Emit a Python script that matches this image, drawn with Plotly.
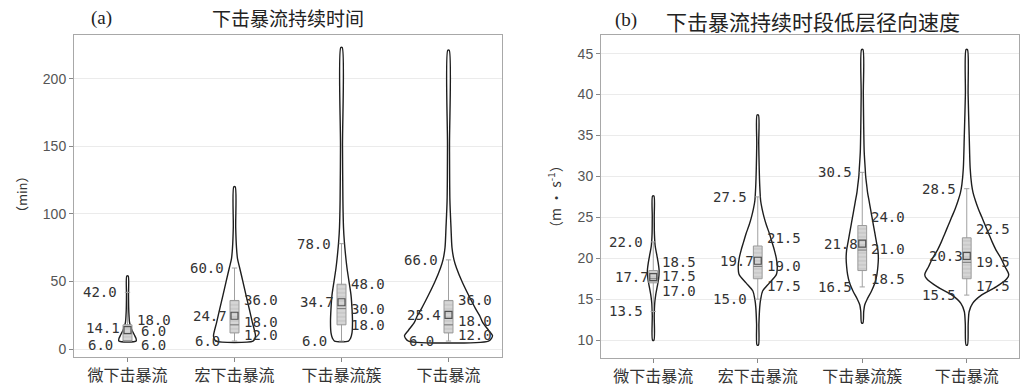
import plotly.graph_objects as go

W, H = 1020, 387

categories = ["微下击暴流", "宏下击暴流", "下击暴流簇", "下击暴流"]

# ---- (a) downburst duration, min ----
dur_upper = [42.0, 60.0, 78.0, 66.0]
dur_mean = [14.1, 24.7, 34.7, 25.4]
dur_lower = [6.0, 6.0, 6.0, 6.0]
dur_q3 = [18.0, 36.0, 48.0, 36.0]
dur_median = [6.0, 18.0, 30.0, 18.0]
dur_q1 = [6.0, 12.0, 18.0, 12.0]

# density profiles: value grid and relative half-width of each violin
dur_grid = [
    [6, 8, 10, 12, 14, 17, 20, 25, 30, 40, 54],
    [6, 8, 10, 20, 30, 40, 50, 60, 67, 75, 90, 120],
    [6, 8, 12, 20, 30, 40, 50, 60, 70, 80, 90, 110, 150, 223],
    [6, 8, 10, 14, 20, 25, 30, 40, 50, 60, 66, 75, 90, 110, 150, 221],
]
dur_density = [
    [8.7, 8.5, 7.2, 5.8, 4.5, 3.0, 2.0, 1.5, 1.2, 1.0, 0.7],
    [18.5, 20.5, 21.0, 17.8, 14.7, 11.5, 8.4, 5.2, 3.0, 2.0, 1.2, 0.7],
    [7.0, 9.0, 10.5, 11.0, 10.5, 9.5, 7.5, 5.5, 4.0, 2.8, 2.0, 1.4, 1.0, 0.7],
    [40, 43, 44, 40, 34, 31, 27, 20, 13.5, 8, 5.5, 3.5, 2.5, 1.4, 1.0, 0.7],
]

# ---- (b) low-level radial velocity, m/s ----
spd_upper = [22.0, 27.5, 30.5, 28.5]
spd_mean = [17.7, 19.7, 21.8, 20.3]
spd_lower = [13.5, 15.0, 16.5, 15.5]
spd_q3 = [18.5, 21.5, 24.0, 22.5]
spd_median = [17.5, 19.0, 21.0, 19.5]
spd_q1 = [17.0, 17.5, 18.5, 17.5]

spd_grid = [
    [10, 13, 14.5, 15.5, 16.5, 17.5, 18.5, 19.5, 20.5, 21.5, 23, 25, 27.6],
    [9.4, 12, 14, 15, 16, 17, 18, 19, 20, 21, 22, 23, 24, 25, 26, 27, 29, 31, 34, 37.5],
    [12.1, 13.5, 14.3, 15, 16, 17, 18, 19, 20, 21, 22, 23, 24, 25, 26, 27, 28, 29, 30, 31, 33, 36, 40, 45.5],
    [9.4, 12, 13.5, 14.5, 15.5, 16.5, 17.5, 18, 19, 20, 21, 22, 23, 24, 25, 26, 27, 28, 29, 31, 35, 40, 45.5],
]
spd_density = [
    [0.7, 1.0, 1.5, 2.5, 4.0, 5.5, 6.0, 5.0, 3.5, 2.0, 1.2, 1.0, 0.7],
    [0.7, 1.2, 2.0, 3.0, 5.0, 12, 19, 20, 19, 17, 14.5, 12, 9, 6.5, 4.5, 3.0, 2.0, 1.5, 1.0, 0.7],
    [0.7, 1.5, 2.5, 5.0, 9.5, 13, 15, 16, 16.5, 16, 14.5, 13, 11.5, 10, 8.5, 7, 5.5, 4.5, 3.5, 3.0, 2.0, 1.5, 1.1, 0.7],
    [0.7, 1.5, 2.5, 6.0, 15, 30, 41, 43, 39, 35, 30, 26, 22.5, 19, 15.5, 12, 9, 6.5, 5.0, 3.5, 2.5, 1.4, 0.7],
]

DENSITY_SCALE = 1 / 107.0   # density units -> category units
BOX_HALF = 0.042
CAP_HALF = 0.025
CJK = "Noto Sans CJK SC"
MONO = "DejaVu Sans Mono"


def px_x(p):
    return p / W


def px_y(p):
    return 1 - p / H


fig = go.Figure()


def add_panel(xa, ya, grids, dens, lower, q1, med, q3, upper, mean):
    n = len(categories)
    # violin outlines, white filled
    for i, (g, d) in enumerate(zip(grids, dens)):
        hw = [v * DENSITY_SCALE for v in d]
        xs = [i - w for w in hw] + [i + w for w in reversed(hw)] + [i - hw[0]]
        ys = list(g) + list(reversed(g)) + [g[0]]
        fig.add_trace(go.Scatter(
            x=xs, y=ys, mode="lines", fill="toself", fillcolor="white",
            line=dict(color="#1e1e1e", width=1.4, shape="spline", smoothing=0.8),
            xaxis=xa, yaxis=ya, hoverinfo="skip", showlegend=False))

    # whiskers with short caps
    wx, wy = [], []
    for i in range(n):
        wx += [i, i, None, i - CAP_HALF, i + CAP_HALF, None, i - CAP_HALF, i + CAP_HALF, None]
        wy += [lower[i], upper[i], None, lower[i], lower[i], None, upper[i], upper[i], None]
    fig.add_trace(go.Scatter(x=wx, y=wy, mode="lines", line=dict(color="#a0a0a0", width=1),
                             xaxis=xa, yaxis=ya, hoverinfo="skip", showlegend=False))

    # interquartile boxes, hatched
    for i in range(n):
        fig.add_trace(go.Scatter(
            x=[i - BOX_HALF, i + BOX_HALF, i + BOX_HALF, i - BOX_HALF, i - BOX_HALF],
            y=[q1[i], q1[i], q3[i], q3[i], q1[i]],
            mode="lines", fill="toself", fillcolor="#d4d4d4",
            fillpattern=dict(shape="-", bgcolor="#d6d6d6", fgcolor="#a6a6a6", size=4, solidity=0.25),
            line=dict(color="#9a9a9a", width=1),
            xaxis=xa, yaxis=ya, hoverinfo="skip", showlegend=False))

    # median lines
    mx, my = [], []
    for i in range(n):
        mx += [i - BOX_HALF, i + BOX_HALF, None]
        my += [med[i], med[i], None]
    fig.add_trace(go.Scatter(x=mx, y=my, mode="lines", line=dict(color="#7a7a7a", width=1),
                             xaxis=xa, yaxis=ya, hoverinfo="skip", showlegend=False))

    # mean markers
    fig.add_trace(go.Scatter(
        x=list(range(n)), y=mean, mode="markers",
        marker=dict(symbol="square-open", size=7, color="#505050", line=dict(width=1.2)),
        xaxis=xa, yaxis=ya, showlegend=False))


add_panel("x", "y", dur_grid, dur_density, dur_lower, dur_q1, dur_median, dur_q3, dur_upper, dur_mean)
add_panel("x2", "y2", spd_grid, spd_density, spd_lower, spd_q1, spd_median, spd_q3, spd_upper, spd_mean)

annotations = []

# value labels: left side = upper whisker / mean / lower whisker, right side = Q3 / median / Q1
label_font = dict(family=MONO, size=14, color="#333333")
shifts = {
    "x": dict(mean_dx=-25,
              left_dy=[(0, 2, -4), (0, 0, 0), (0, 0, 0), (0, 0, 0)],
              right_dy=[(5, 10, -4), (0, 3, -2), (0, 0, 0), (0, 4, -2)]),
    "x2": dict(mean_dx=-21,
               left_dy=[(0, 0, 0)] * 4,
               right_dy=[(9, 3, -8), (8, 0, -7), (9, 1, -8), (9, 0, -7)]),
}


def add_labels(xa, ya, lower, q1, med, q3, upper, mean):
    s = shifts[xa]
    for i in range(len(categories)):
        ld = s["left_dy"][i]
        rd = s["right_dy"][i]
        for v, dx, dy in ((upper[i], -27.5, ld[0]), (mean[i], s["mean_dx"], ld[1]), (lower[i], -27.5, ld[2])):
            annotations.append(dict(x=i, y=v, xref=xa, yref=ya, text=f"{v:.1f}", showarrow=False,
                                    xshift=dx, yshift=dy, xanchor="center", yanchor="middle", font=label_font))
        for v, dy in ((q3[i], rd[0]), (med[i], rd[1]), (q1[i], rd[2])):
            annotations.append(dict(x=i, y=v, xref=xa, yref=ya, text=f"{v:.1f}", showarrow=False,
                                    xshift=26, yshift=dy, xanchor="center", yanchor="middle", font=label_font))


add_labels("x", "y", dur_lower, dur_q1, dur_median, dur_q3, dur_upper, dur_mean)
add_labels("x2", "y2", spd_lower, spd_q1, spd_median, spd_q3, spd_upper, spd_mean)


def paper_text(x, y, text, font, angle=0):
    return dict(x=px_x(x), y=px_y(y), xref="paper", yref="paper", text=text, showarrow=False,
                xanchor="center", yanchor="middle", textangle=angle, font=font)


# panel titles and axis titles
annotations += [
    paper_text(101, 18, "(a)", dict(family="Liberation Serif", size=19, color="#222")),
    paper_text(288, 18, "下击暴流持续时间", dict(family=CJK, size=19, color="#222")),
    paper_text(626, 20, "(b)", dict(family="Liberation Serif", size=19, color="#222")),
    paper_text(813, 21, "下击暴流持续时段低层径向速度", dict(family=CJK, size=21, color="#222")),
    paper_text(22, 195, "（min）", dict(family=CJK, size=13, color="#333"), -90),
    paper_text(555, 198, "（m · s<sup>-1</sup>）", dict(family=CJK, size=14, color="#333"), -90),
]

xaxis_common = dict(
    range=[-0.5, 3.5], tickvals=[0, 1, 2, 3], ticktext=categories,
    ticks="outside", ticklen=4, tickcolor="#888", showline=True, mirror=True,
    linecolor="#a8a8a8", linewidth=1, showgrid=False, zeroline=False,
    tickfont=dict(family=CJK, size=16, color="#333"))
yaxis_common = dict(
    ticks="outside", ticklen=4, tickcolor="#888", showline=True, mirror=True,
    linecolor="#a8a8a8", linewidth=1, showgrid=True, gridcolor="#ebebeb", gridwidth=1,
    zeroline=False, tickfont=dict(family="Liberation Sans", size=14, color="#555"))

fig.update_layout(
    width=W, height=H, margin=dict(l=0, r=0, t=0, b=0),
    paper_bgcolor="white", plot_bgcolor="white", showlegend=False,
    xaxis=dict(domain=[px_x(74), px_x(502)], anchor="y", **xaxis_common),
    yaxis=dict(domain=[px_y(359), px_y(35)], anchor="x", range=[-5.9, 232.4],
               tickvals=[0, 50, 100, 150, 200], **yaxis_common),
    xaxis2=dict(domain=[px_x(601), px_x(1019)], anchor="y2", **xaxis_common),
    yaxis2=dict(domain=[px_y(360), px_y(35)], anchor="x2", range=[7.8, 47.3],
                tickvals=[10, 15, 20, 25, 30, 35, 40, 45], **yaxis_common),
    annotations=annotations,
)

fig.write_html("out.html")
